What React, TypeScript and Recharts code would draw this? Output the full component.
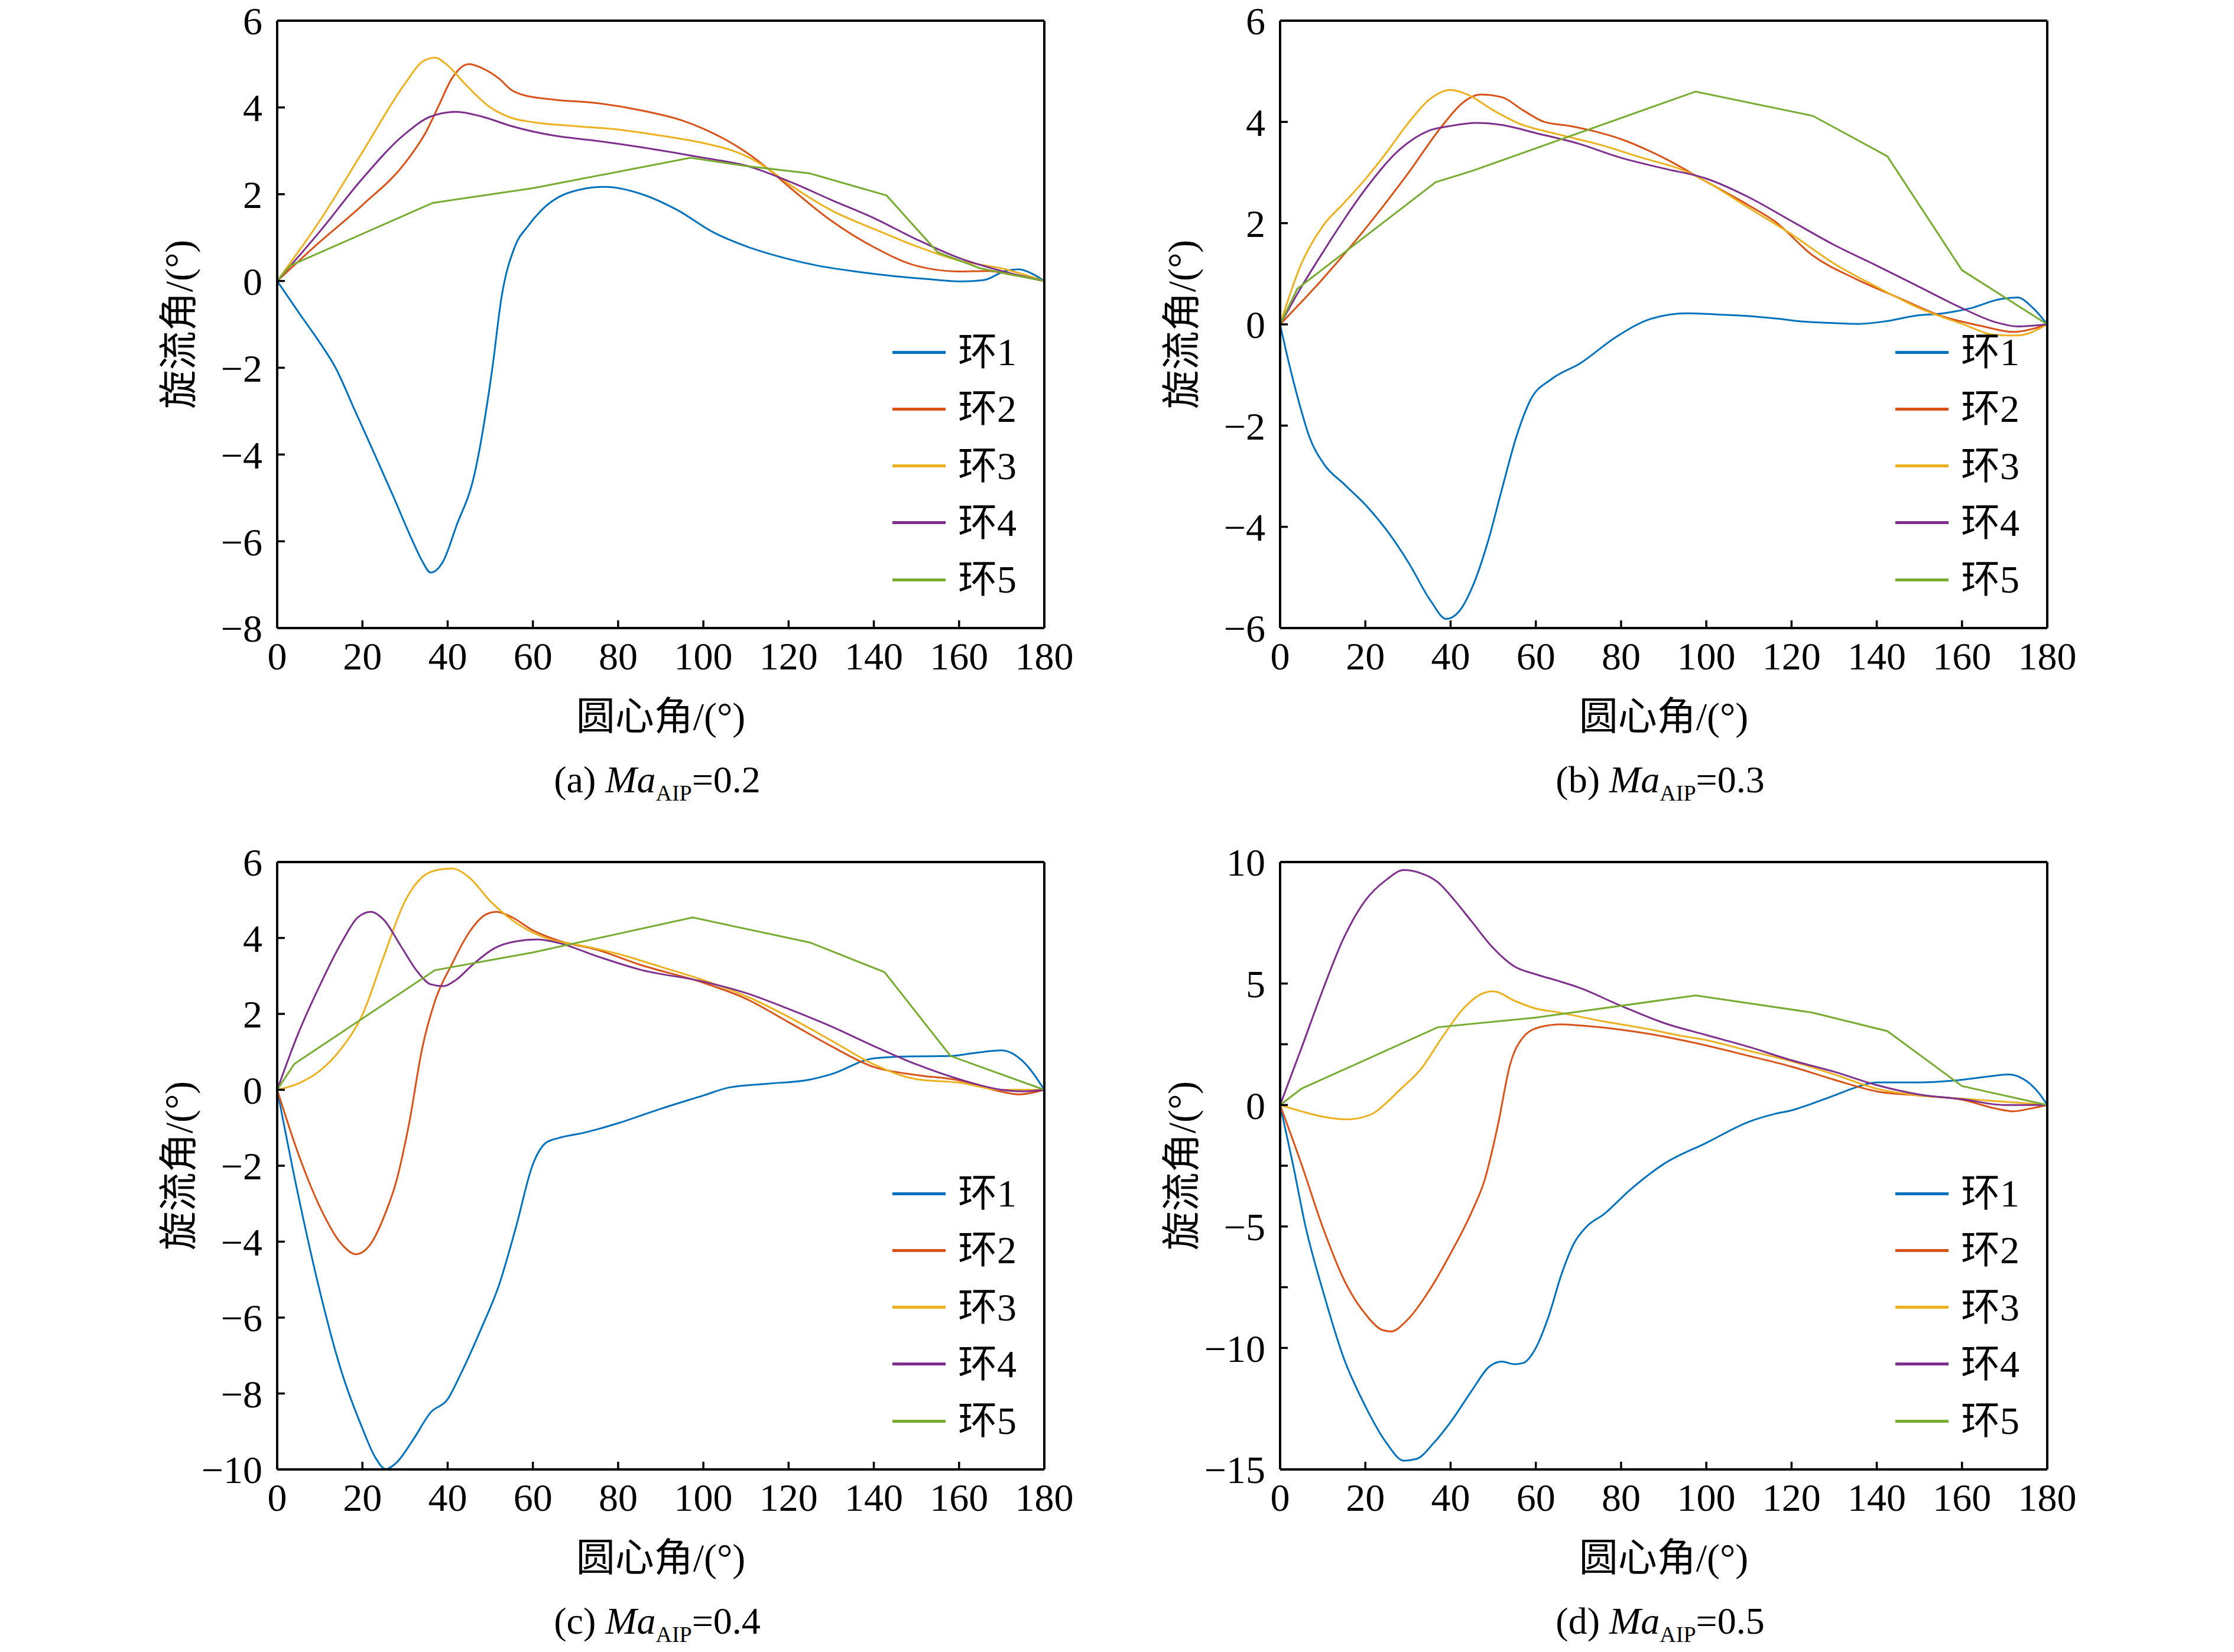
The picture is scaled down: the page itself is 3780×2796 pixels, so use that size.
import React from "react";
import { LineChart, Line, XAxis, YAxis } from "recharts";

const FONT = '"Liberation Serif", "Times New Roman", "Noto Sans CJK SC", serif';
const COLORS = ["#0072BD", "#D95319", "#EDB120", "#7E2F8E", "#77AC30"];
const RING_NAMES = ["环1", "环2", "环3", "环4", "环5"];
const X_TICKS = [0, 20, 40, 60, 80, 100, 120, 140, 160, 180];

// (a) Ma=0.2
const a1 = [[0,0],[5,-0.72],[10,-1.42],[13.7,-2.0],[18.3,-3.0],[22.9,-4.0],[27.4,-5.0],[31.8,-6.0],[34,-6.45],[36,-6.72],[39,-6.45],[42,-5.66],[46.3,-4.45],[50.5,-2.0],[52.6,-0.4],[55.8,0.8],[58.8,1.26],[62,1.63],[68.9,2.05],[77,2.17],[85.6,2.0],[94,1.63],[102,1.14],[110.6,0.78],[119,0.53],[127,0.35],[135.7,0.22],[144,0.12],[152,0.05],[160.8,-0.01],[165.8,0.02],[170.8,0.23],[174,0.27],[177.5,0.15],[180,0]];
const a2 = [[0,0],[10,0.9],[20,1.75],[30,2.72],[35,3.45],[38,4.06],[41,4.67],[45,5.0],[48,4.91],[52,4.67],[55,4.4],[58,4.28],[65,4.18],[75,4.1],[85,3.94],[95,3.7],[100,3.51],[110,2.97],[115,2.6],[120,2.18],[130,1.39],[140,0.78],[150,0.35],[160,0.22],[167,0.23],[172,0.15],[180,0]];
const a3 = [[0,0],[10,1.39],[20,2.97],[30,4.55],[34,5.05],[37,5.15],[40,4.97],[44,4.55],[50,4.0],[55,3.76],[60,3.66],[70,3.57],[80,3.49],[90,3.35],[100,3.18],[110,2.88],[115,2.6],[120,2.24],[130,1.63],[140,1.2],[150,0.8],[160,0.47],[170,0.29],[180,0]];
const a4 = [[0,0],[10,1.14],[20,2.36],[30,3.39],[36,3.79],[42,3.9],[48,3.79],[55,3.57],[65,3.35],[75,3.23],[85,3.09],[100,2.84],[110,2.66],[120,2.3],[130,1.87],[140,1.45],[150,0.96],[160,0.53],[170,0.23],[180,0]];
const a5 = [[0,0],[3,0.35],[36.5,1.8],[60,2.14],[97,2.84],[110,2.65],[125,2.48],[143,1.97],[155,0.66],[165,0.29],[180,0]];

// (b) Ma=0.3
const b1 = [[0,0],[1.8,-0.67],[4.3,-1.5],[6.9,-2.23],[10.2,-2.75],[15.2,-3.17],[20.2,-3.58],[25.3,-4.1],[30.3,-4.73],[35.3,-5.46],[39,-5.82],[42,-5.67],[45.3,-5.15],[48.7,-4.31],[52,-3.27],[55.4,-2.23],[58.7,-1.5],[63.7,-1.08],[70.4,-0.77],[78.8,-0.25],[87,0.11],[95.5,0.22],[104,0.19],[112,0.15],[117,0.11],[122,0.06],[129,0.03],[135.7,0.01],[142,0.06],[149,0.17],[155.7,0.22],[162,0.32],[169,0.5],[173,0.53],[176.7,0.32],[180,0]];
const b2 = [[0,0],[10,0.9],[20,1.89],[30,2.98],[38,3.92],[43,4.39],[47,4.54],[52,4.49],[57,4.23],[62,4.0],[68,3.92],[74,3.81],[80,3.66],[90,3.29],[100,2.82],[110,2.35],[116,2.04],[125,1.36],[135,0.9],[145,0.53],[155,0.17],[165,-0.04],[172,-0.15],[177,-0.08],[180,0]];
const b3 = [[0,0],[5,1.2],[10,1.94],[15,2.4],[20,2.87],[25,3.4],[30,3.97],[35,4.44],[40,4.63],[44,4.54],[50,4.23],[56,3.97],[65,3.76],[75,3.55],[85,3.29],[95,3.03],[100,2.82],[110,2.3],[120,1.78],[130,1.2],[140,0.74],[150,0.32],[160,0.01],[168,-0.21],[173,-0.22],[180,0]];
const b4 = [[0,0],[5,0.74],[10,1.42],[20,2.67],[28,3.45],[35,3.83],[40,3.92],[46,3.98],[52,3.94],[60,3.78],[70,3.57],[80,3.29],[90,3.08],[100,2.88],[110,2.51],[120,2.04],[130,1.57],[140,1.16],[150,0.74],[160,0.32],[168,0.04],[173,-0.04],[180,0]];
const b5 = [[0,0],[4,0.7],[36.5,2.81],[45,3.03],[97.5,4.6],[125,4.12],[142.5,3.32],[160,1.07],[180,0]];

// (c) Ma=0.4
const c1 = [[0,0],[5,-2.81],[10,-5.3],[15,-7.39],[20,-8.92],[23,-9.68],[25.5,-9.99],[28,-9.82],[32,-9.2],[36,-8.5],[40,-8.15],[43,-7.5],[48,-6.26],[52,-5.16],[56,-3.63],[60,-1.96],[63,-1.4],[66,-1.27],[72,-1.13],[80,-0.88],[90,-0.5],[100,-0.15],[106,0.06],[115,0.16],[125,0.27],[130,0.41],[140,0.83],[148,0.88],[158,0.89],[163,0.96],[170,1.04],[175,0.75],[180,0]];
const c2 = [[0,0],[5,-1.7],[10,-3.08],[15,-4.05],[18.5,-4.33],[22,-4.05],[25,-3.36],[28,-2.39],[31,-0.86],[34,1.08],[37,2.33],[41,3.31],[45,4.14],[49,4.62],[51.5,4.69],[55,4.55],[60,4.2],[66,3.93],[75,3.69],[85,3.3],[100,2.82],[110,2.4],[120,1.78],[130,1.15],[140,0.6],[150,0.39],[160,0.25],[170,-0.05],[174,-0.12],[180,0]];
const c3 = [[0,0],[5,0.17],[10,0.5],[15,1.08],[20,1.98],[25,3.51],[30,4.97],[34,5.6],[38,5.8],[41,5.83],[45,5.6],[50,4.97],[55,4.48],[60,4.14],[65,3.93],[70,3.83],[80,3.58],[90,3.24],[100,2.89],[110,2.47],[120,1.92],[130,1.3],[140,0.67],[150,0.28],[160,0.19],[170,0],[180,0]];
const c4 = [[0,0],[5,1.5],[10,2.75],[15,3.86],[19,4.55],[22,4.69],[25,4.48],[29,3.79],[33,3.1],[36,2.78],[39,2.73],[42,2.9],[46,3.31],[51,3.73],[56,3.91],[61,3.96],[66,3.87],[75,3.52],[85,3.17],[100,2.85],[110,2.55],[120,2.13],[130,1.67],[140,1.15],[150,0.67],[160,0.28],[170,0],[175,-0.04],[180,0]];
const c5 = [[0,0],[4,0.68],[37,3.15],[60,3.62],[97.5,4.54],[125,3.88],[142.5,3.1],[158,0.89],[180,0]];

// (d) Ma=0.5
const d1 = [[0,0],[3,-2.43],[6,-5.03],[10,-7.63],[15,-10.45],[20,-12.4],[25,-13.92],[29,-14.64],[32,-14.57],[36,-13.92],[40,-13.05],[45,-11.75],[49,-10.78],[52,-10.56],[55,-10.67],[57,-10.62],[60,-10.0],[63,-8.7],[66,-6.98],[69,-5.68],[72,-4.99],[76,-4.49],[82,-3.51],[90,-2.43],[100,-1.56],[110,-0.69],[116,-0.37],[120,-0.22],[125,0.07],[130,0.39],[135,0.72],[140,0.93],[150,0.93],[160,1.04],[166,1.17],[171,1.26],[175,1.0],[178,0.5],[180,0]];
const d2 = [[0,0],[5,-2.43],[10,-5.03],[15,-7.2],[20,-8.6],[24,-9.26],[26,-9.32],[30,-8.82],[35,-7.63],[40,-6.11],[45,-4.38],[48,-3.08],[51,-0.91],[54,1.69],[57,2.78],[61,3.21],[66,3.32],[72,3.25],[80,3.1],[90,2.82],[100,2.45],[110,2.02],[120,1.58],[130,1.04],[140,0.56],[150,0.39],[160,0.22],[168,-0.15],[172,-0.26],[176,-0.15],[180,0]];
const d3 = [[0,0],[5,-0.26],[10,-0.48],[16,-0.59],[19,-0.52],[22,-0.33],[25,0.1],[28,0.61],[33,1.47],[38,2.78],[43,3.97],[47,4.55],[50,4.68],[55,4.29],[60,3.97],[65,3.82],[75,3.47],[85,3.17],[95,2.82],[100,2.67],[110,2.23],[120,1.8],[130,1.26],[140,0.67],[150,0.39],[160,0.26],[170,0.13],[175,0.07],[180,0]];
const d4 = [[0,0],[5,2.34],[10,4.73],[15,6.9],[20,8.42],[25,9.28],[29,9.67],[33,9.54],[37,9.17],[41,8.41],[45,7.54],[50,6.46],[55,5.7],[60,5.38],[65,5.12],[70,4.84],[80,4.08],[90,3.38],[100,2.88],[110,2.39],[120,1.84],[130,1.37],[140,0.82],[150,0.43],[160,0.24],[170,0],[180,0]];
const d5 = [[0,0],[5,0.67],[37,3.2],[60,3.6],[97.5,4.51],[125,3.8],[142.5,3.04],[160,0.78],[180,0]];

const TICKS_A = [-8, -6, -4, -2, 0, 2, 4, 6];
const TICKS_B = [-6, -4, -2, 0, 2, 4, 6];
const TICKS_C = [-10, -8, -6, -4, -2, 0, 2, 4, 6];
const TICKS_D = [-15, -10, -7.5, -5, -2.5, 0, 2.5, 5, 10];
const TICKS_D_RIGHT = [-15, -11.875, -8.75, -5.625, -2.5, 0.625, 3.75, 6.875, 10];

const PLOT_W = 1298;
const PLOT_H = 1028;
// space around the plot box inside each svg (axes take 1px each side)
const M = { top: 40, right: 60, bottom: 120, left: 190 };
const MARGIN = { top: M.top - 1, right: M.right - 1, bottom: M.bottom - 1, left: M.left - 1 };

const axisLine = { stroke: "#000", strokeWidth: 4 };
const tickLine = { stroke: "#000", strokeWidth: 3.5 };
const tickFont = { fontSize: 66, fontFamily: FONT, fill: "#000" };

type Pt = number[];

interface PanelProps {
  left: number;
  top: number;
  domain: [number, number];
  ticks: number[];
  rightTicks?: number[];
  labelStep?: number;
  series: Pt[][];
  tag: string;
  ma: string;
}

const fmtNum = (v: number) => (v < 0 ? "\u2212" + Math.abs(v) : String(v));

const Panel = ({ left, top, domain, ticks, rightTicks, labelStep, series, tag, ma }: PanelProps) => {
  const lines = series.map((s) => s.map(([x, y]) => ({ x, y })));
  const yFmt = (v: number) => {
    if (labelStep && Math.abs(v % labelStep) > 1e-9) return "";
    return fmtNum(v);
  };
  const cx = left + PLOT_W / 2;

  return (
    <>
      <div style={{ position: "absolute", left: left - M.left, top: top - M.top }}>
        <LineChart width={PLOT_W + M.left + M.right} height={PLOT_H + M.top + M.bottom} margin={MARGIN}>
          <XAxis
            xAxisId="b"
            type="number"
            dataKey="x"
            domain={[0, 180]}
            ticks={X_TICKS}
            interval={0}
            height={1}
            tickSize={-13}
            tickMargin={36}
            axisLine={axisLine}
            tickLine={tickLine}
            tick={tickFont}
          />
          <XAxis
            xAxisId="t"
            orientation="top"
            type="number"
            dataKey="x"
            domain={[0, 180]}
            ticks={X_TICKS}
            interval={0}
            height={1}
            tickSize={-13}
            axisLine={axisLine}
            tickLine={tickLine}
            tickFormatter={() => ""}
          />
          <YAxis
            yAxisId="l"
            type="number"
            domain={domain}
            ticks={ticks}
            interval={0}
            width={1}
            tickSize={-13}
            tickMargin={38}
            axisLine={axisLine}
            tickLine={tickLine}
            tick={tickFont}
            tickFormatter={yFmt}
          />
          <YAxis
            yAxisId="r"
            orientation="right"
            type="number"
            domain={domain}
            ticks={rightTicks ?? ticks}
            interval={0}
            width={1}
            tickSize={-13}
            axisLine={axisLine}
            tickLine={tickLine}
            tickFormatter={() => ""}
          />
          {lines.map((d, i) => (
            <Line
              key={i}
              xAxisId="b"
              yAxisId="l"
              data={d}
              dataKey="y"
              type={i === 4 ? "linear" : "monotone"}
              stroke={COLORS[i]}
              strokeWidth={3}
              dot={false}
              activeDot={false}
              isAnimationActive={false}
            />
          ))}
        </LineChart>
      </div>

      {/* y axis title */}
      <div
        style={{
          position: "absolute",
          left: left - 166,
          top: top + PLOT_H / 2,
          transform: "translate(-50%, -50%) rotate(-90deg)",
          fontSize: 66,
          whiteSpace: "nowrap",
          lineHeight: 1,
        }}
      >
        旋流角/(°)
      </div>

      {/* x axis title */}
      <div
        style={{
          position: "absolute",
          left: cx,
          top: top + 1178,
          transform: "translate(-50%, -50%)",
          fontSize: 66,
          whiteSpace: "nowrap",
          lineHeight: 1,
        }}
      >
        圆心角/(°)
      </div>

      {/* caption */}
      <div
        style={{
          position: "absolute",
          left: cx - 6,
          top: top + 1285,
          transform: "translate(-50%, -50%)",
          fontSize: 64,
          whiteSpace: "nowrap",
          lineHeight: 1,
        }}
      >
        ({tag}) <i>Ma</i>
        <span style={{ fontSize: 38, position: "relative", top: 14 }}>AIP</span>={ma}
      </div>

      {/* legend */}
      {RING_NAMES.map((name, i) => {
        const rowY = top + 561 + i * 96.3;
        return (
          <React.Fragment key={name}>
            <div
              style={{
                position: "absolute",
                left: left + 1041,
                top: rowY - 2.5,
                width: 90,
                height: 5,
                background: COLORS[i],
              }}
            />
            <div
              style={{
                position: "absolute",
                left: left + 1152,
                top: rowY,
                transform: "translateY(-50%)",
                fontSize: 66,
                lineHeight: 1,
                whiteSpace: "nowrap",
              }}
            >
              {name}
            </div>
          </React.Fragment>
        );
      })}
    </>
  );
};

export default function App() {
  return (
    <div
      style={{
        position: "absolute",
        left: 0,
        top: 0,
        width: 3780,
        height: 2796,
        background: "#fff",
        fontFamily: FONT,
        color: "#000",
        overflow: "hidden",
      }}
    >
      <Panel left={469} top={35} domain={[-8, 6]} ticks={TICKS_A} series={[a1, a2, a3, a4, a5]} tag="a" ma="0.2" />
      <Panel left={2166} top={35} domain={[-6, 6]} ticks={TICKS_B} series={[b1, b2, b3, b4, b5]} tag="b" ma="0.3" />
      <Panel left={469} top={1459} domain={[-10, 6]} ticks={TICKS_C} series={[c1, c2, c3, c4, c5]} tag="c" ma="0.4" />
      <Panel
        left={2166}
        top={1459}
        domain={[-15, 10]}
        ticks={TICKS_D}
        rightTicks={TICKS_D_RIGHT}
        labelStep={5}
        series={[d1, d2, d3, d4, d5]}
        tag="d"
        ma="0.5"
      />
    </div>
  );
}
